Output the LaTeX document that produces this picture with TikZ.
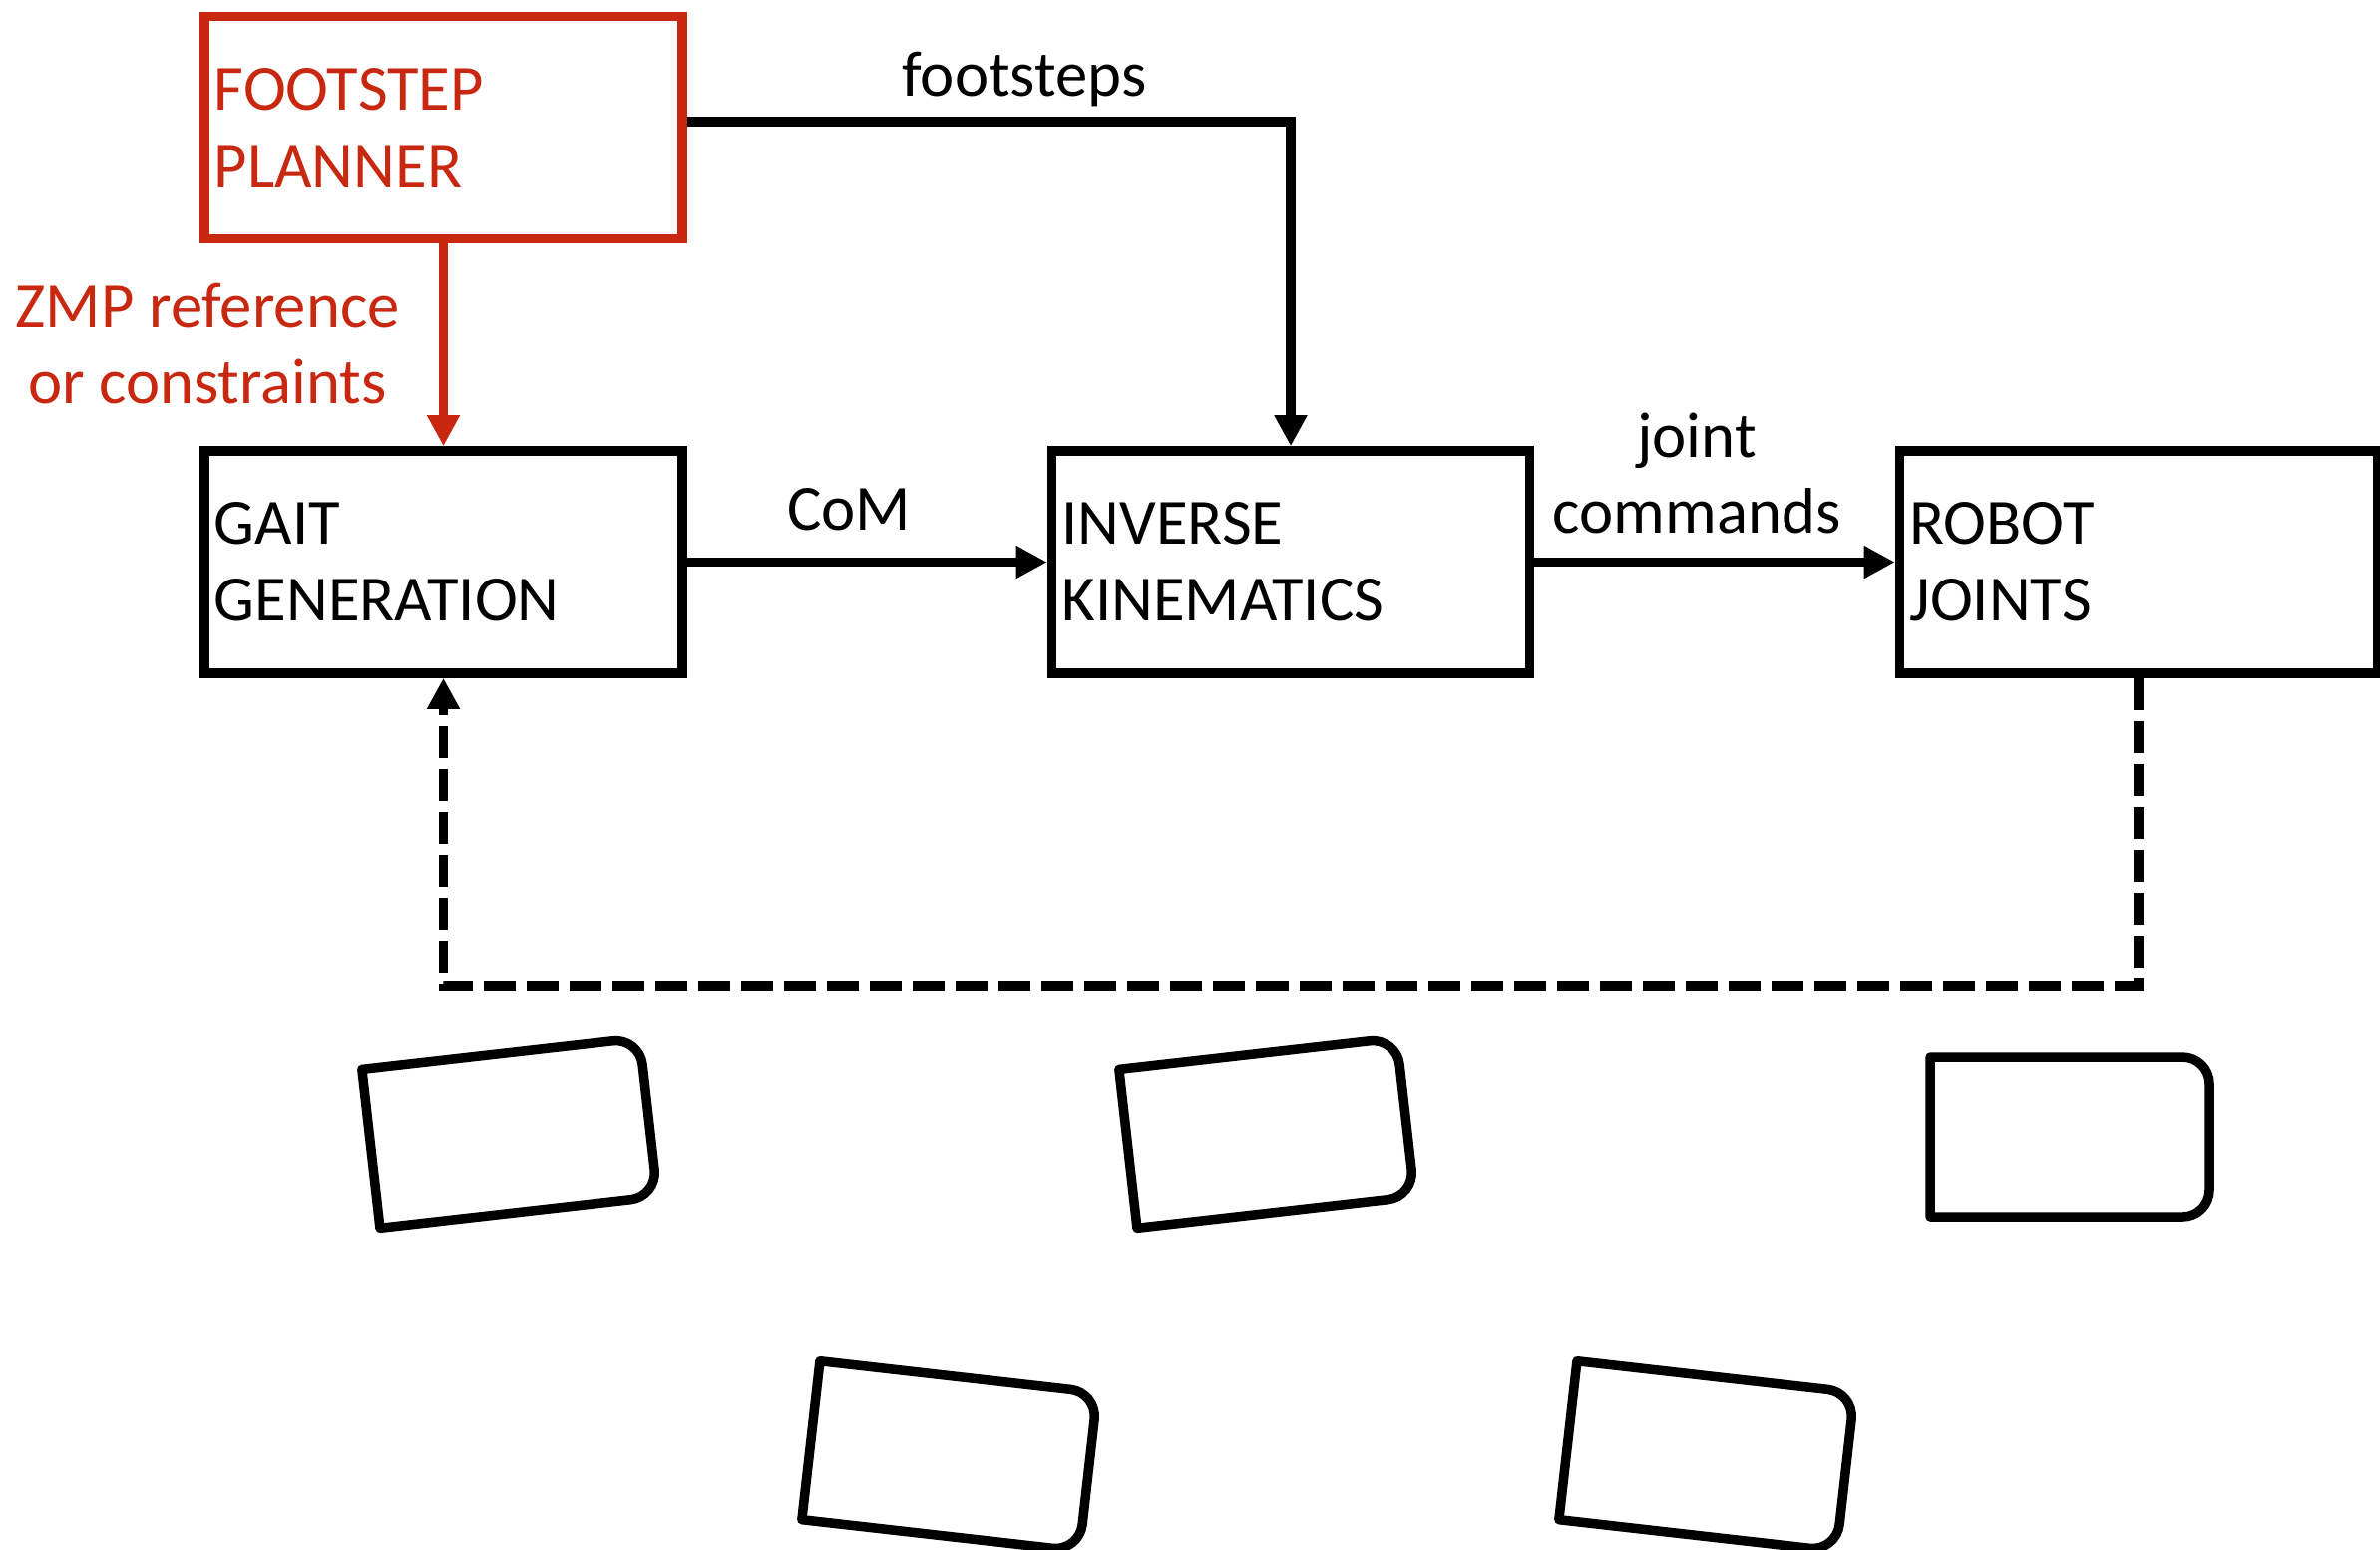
\documentclass[tikz,border=0pt]{standalone}
\usepackage{fontspec}
\setmainfont{Carlito}
\usetikzlibrary{arrows.meta}
\definecolor{planred}{RGB}{200,40,15}
\newcommand\drawfoot[3]{%
  \draw[footln,shift={(#1,#2)},rotate=#3] (-140,80) -- (113,80)
    arc[start angle=90,end angle=0,radius=27] -- (140,-53)
    arc[start angle=0,end angle=-90,radius=27] -- (-140,-80) -- cycle;}
\begin{document}
\begin{tikzpicture}[x=0.01cm,y=0.01cm,
  blk/.style={draw,line width=0.095cm,minimum width=4.79cm,minimum height=2.23cm,
    inner xsep=0.1cm,text width=4.59cm,align=left,inner ysep=0pt,
    font=\fontsize{18.4}{21.8}\selectfont},
  lbl/.style={inner sep=0pt,font=\fontsize{18.4}{21.8}\selectfont},
  arr/.style={line width=0.095cm,-{Triangle[length=0.31cm,width=0.31cm]}},
  fbarr/.style={arr,dash pattern=on 0.32cm off 0.11cm},
  footln/.style={line width=0.095cm,line join=round}]
\useasboundingbox (0,0) rectangle (2386,-1553);
\node[blk,draw=planred,text=planred] (plan) at (444.5,-128) {FOOTSTEP\\PLANNER};
\node[blk] (gait) at (444.5,-563.5) {GAIT\\GENERATION};
\node[blk] (ik) at (1294,-563.5) {INVERSE\\KINEMATICS};
\node[blk] (robot) at (2144,-563.5) {ROBOT\\JOINTS};
\coordinate (fbk) at (444.5,-989);
\draw[arr] ([yshift=0.06cm]plan.east) -| (ik.north);
\draw[arr,planred] (plan.south) -- (gait.north);
\draw[arr] (gait.east) -- (ik.west);
\draw[arr] (ik.east) -- (robot.west);
\draw[fbarr] (robot.south) |- (fbk) -- (gait.south);
\node[lbl,anchor=base] (fsl) at (1027,-96) {footsteps};
\node[lbl,text=planred,align=center] (zmpl) at (208,-344.5) {ZMP reference\\or constraints};
\node[lbl,anchor=base] (coml) at (851,-531) {CoM};
\node[lbl,align=center] (jcl) at (1701,-474.5) {joint\\commands};
\drawfoot{511}{-1136}{6.5}
\drawfoot{1270}{-1136}{6.5}
\drawfoot{2075}{-1140}{0}
\drawfoot{952}{-1460}{-6.5}
\drawfoot{1711}{-1460}{-6.5}
\end{tikzpicture}
\end{document}
